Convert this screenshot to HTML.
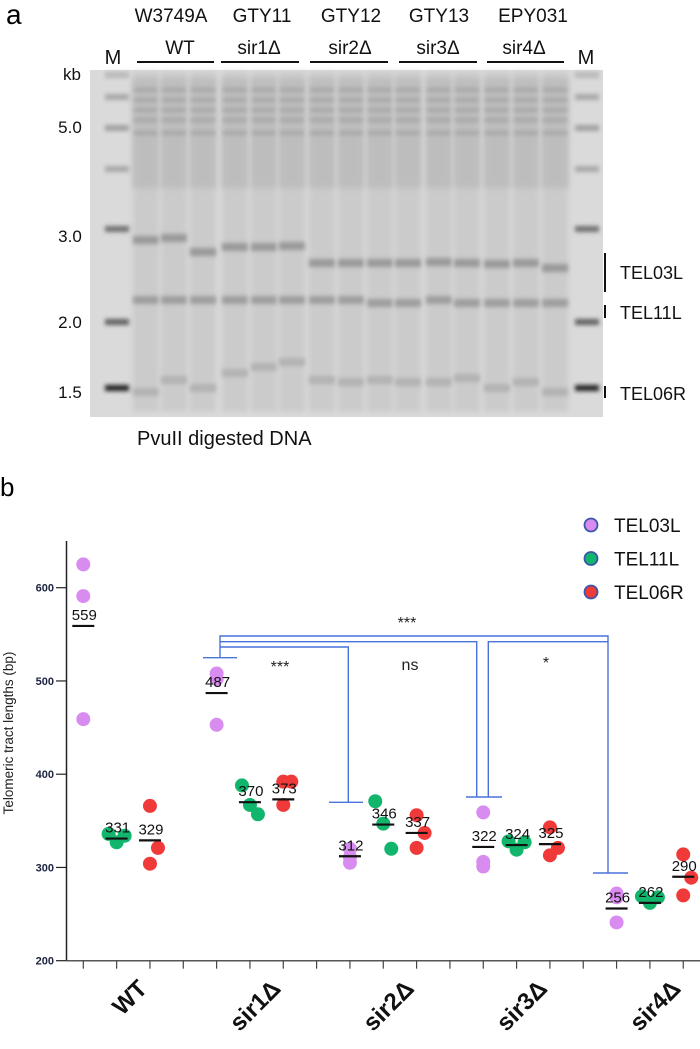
<!DOCTYPE html>
<html><head><meta charset="utf-8">
<style>
html,body{margin:0;padding:0;background:#fff;}
svg{display:block;font-family:"Liberation Sans",sans-serif;}
</style></head>
<body>
<svg id="fig" width="700" height="1049" viewBox="0 0 700 1049" xmlns="http://www.w3.org/2000/svg">
<defs>
<filter id="blur" x="-20%" y="-80%" width="140%" height="260%"><feGaussianBlur stdDeviation="2.2"/></filter>
<filter id="blur2" x="-20%" y="-20%" width="140%" height="140%"><feGaussianBlur stdDeviation="3"/></filter>
</defs>
<text x="6" y="24" font-size="28">a</text>
<g id="gel-labels" font-size="19" text-anchor="middle" fill="#111">
<text x="171" y="22">W3749A</text>
<text x="262" y="22">GTY11</text>
<text x="351" y="22">GTY12</text>
<text x="439" y="22">GTY13</text>
<text x="533" y="22">EPY031</text>
<text x="180" y="54">WT</text>
<text x="259" y="54">sir1Δ</text>
<text x="350" y="54">sir2Δ</text>
<text x="438" y="54">sir3Δ</text>
<text x="524" y="54">sir4Δ</text>
<text x="113" y="64" font-size="20">M</text>
<text x="586" y="64" font-size="20">M</text>
</g>
<g stroke="#111" stroke-width="2">
<line x1="137" y1="62" x2="214" y2="62"/><line x1="221" y1="62" x2="299" y2="62"/>
<line x1="310" y1="62" x2="388" y2="62"/><line x1="399" y1="62" x2="477" y2="62"/>
<line x1="487" y1="62" x2="564" y2="62"/>
</g>
<g font-size="17" text-anchor="middle" fill="#111">
<text x="72" y="80">kb</text><text x="70" y="133">5.0</text><text x="70" y="242">3.0</text>
<text x="70" y="328">2.0</text><text x="70" y="398">1.5</text>
</g>
<rect x="90" y="70" width="513" height="347" fill="#dadada"/>
<g id="gel"></g>
<g font-size="18" fill="#111">
<line x1="605" y1="253" x2="605" y2="292" stroke="#111" stroke-width="2"/>
<text x="620" y="279">TEL03L</text>
<line x1="605" y1="305" x2="605" y2="318" stroke="#111" stroke-width="2"/>
<text x="620" y="319">TEL11L</text>
<line x1="605" y1="386" x2="605" y2="398" stroke="#111" stroke-width="2"/>
<text x="620" y="400">TEL06R</text>
</g>
<text x="137" y="445" font-size="20" fill="#111">PvuII digested DNA</text>
<text x="0" y="496" font-size="26">b</text>
<g id="chart"></g>
</svg>
<script>
// ---- chart data ----
const groups = ["WT","sir1Δ","sir2Δ","sir3Δ","sir4Δ"];
const seriesNames = ["TEL03L","TEL11L","TEL06R"];
const tel03L = [[625,591,459],[508,502,453],[320,305,311],[359,301,306],[272,268,241]];
const tel11L = [[336,327,334],[388,367,357],[371,347,320],[328,319,327],[269,262,268]];
const tel06R = [[366,321,304],[392,392,367],[356,337,321],[343,321,313],[314,289,270]];
const meanLabels = [[559,331,329],[487,370,373],[312,346,337],[322,324,325],[256,262,290]];
const yTicks = [200,300,400,500,600];
const sigLabels = ["***","***","ns","*"];

const NS='http://www.w3.org/2000/svg';
function mk(tag, attrs, parent){const e=document.createElementNS(NS,tag);for(const k in attrs)e.setAttribute(k,attrs[k]);parent.appendChild(e);return e;}

// ---- gel (decorative) ----
const gel=document.getElementById('gel');
const laneX=[146,174,203,235,264,292,322,351,380,408,439,467,497,526,555];
const t3=[240,238,252,247,247,246,263,263,263,263,262,263,264,263,268];
const t11=[300,300,300,300,300,300,300,300,303,303,300,303,303,303,303];
const t6=[392,380,388,373,367,362,380,382,380,382,382,378,388,382,392];
laneX.forEach((x,i)=>{
  mk('rect',{x:x-13,y:72,width:26,height:340,fill:'#cbcbcb',filter:'url(#blur2)'},gel);
  mk('rect',{x:x-13,y:78,width:26,height:110,fill:'#bdbdbd',filter:'url(#blur2)'},gel);
  [90,100,110,120,133].forEach(y=>mk('rect',{x:x-12,y:y-2,width:24,height:4,fill:'#a6a6a6',filter:'url(#blur)'},gel));
  mk('rect',{x:x-13,y:t3[i]-4,width:26,height:8,fill:'#999',filter:'url(#blur)'},gel);
  mk('rect',{x:x-13,y:t11[i]-4,width:26,height:8,fill:'#9e9e9e',filter:'url(#blur)'},gel);
  mk('rect',{x:x-13,y:t6[i]-4,width:26,height:8,fill:'#b2b2b2',filter:'url(#blur)'},gel);
});
[117,587].forEach(x=>{
  [[75,'#b8b8b8'],[97,'#a8a8a8'],[128,'#a0a0a0'],[169,'#a8a8a8'],[229,'#707070'],[322,'#606060'],[388,'#222']].forEach(([y,c])=>
    mk('rect',{x:x-12,y:y-3,width:24,height:6,fill:c,filter:'url(#blur)'},gel));
});

// ---- dot plot ----
const chart=document.getElementById('chart');
const X0=66.5, Y0=960.7, PX=0.9325;
function yS(v){return Y0-(v-200)*PX;}
function xS(g,s){return 83.3+(g*4+s)*33.33;}
const colors=['#d98cf0','#12b56c','#f03a3a'];
const jitter=[[0,0,0],[-8,0,8],[0,8,0]];
const allSeries=[tel03L,tel11L,tel06R];

// axes
let ax=mk('line',{x1:X0,y1:541,x2:X0,y2:Y0,stroke:'#222','stroke-width':1.5},chart);


let bx=mk('line',{x1:X0,y1:Y0,x2:700,y2:Y0,stroke:'#555','stroke-width':1.5},chart);


yTicks.forEach(v=>{
  mk('line',{x1:56,y1:yS(v),x2:X0,y2:yS(v),stroke:'#222','stroke-width':1.2},chart);
  const t=mk('text',{x:54,y:yS(v)+4,'font-size':11,'font-weight':'bold','text-anchor':'end',fill:'#1b2340'},chart);
  t.textContent=v;
  
  
});
for(let k=0;k<19;k++){
  mk('line',{x1:83.3+k*33.33,y1:Y0,x2:83.3+k*33.33,y2:Y0+8,stroke:'#444','stroke-width':1.2},chart);
}
const yt=mk('text',{x:0,y:0,'font-size':13.5,'text-anchor':'middle',fill:'#222',transform:'translate(13,733) rotate(-90)'},chart);
yt.textContent='Telomeric tract lengths (bp)';


groups.forEach((g,gi)=>{
  const cx=xS(gi,1);
  const t=mk('text',{x:0,y:0,'font-size':24,'font-weight':'bold','text-anchor':'end',fill:'#111',transform:`translate(${cx+32},990) rotate(-45)`},chart);
  t.textContent=g;
  
  
});

// points
allSeries.forEach((ser,si)=>{
  ser.forEach((vals,gi)=>{
    vals.forEach((v,pi)=>{
      const c=mk('circle',{cx:xS(gi,si)+jitter[si][pi],cy:yS(v),r:7,fill:colors[si]},chart);
      
      
    });
  });
});
// mean lines + labels
meanLabels.forEach((row,gi)=>row.forEach((m,si)=>{
  const x=xS(gi,si), y=yS(m);
  const l=mk('line',{x1:x-11,y1:y,x2:x+11,y2:y,stroke:'#111','stroke-width':2.2},chart);
  
  
  const t=mk('text',{x:x+1,y:y-6,'font-size':15,'text-anchor':'middle',fill:'#111'},chart);
  t.textContent=m;
  
  
}));

// significance brackets
const br=mk('g',{stroke:'#4a72d8','stroke-width':1.4,fill:'none'},chart);


[
 'M203,657.7H237','M220,657.7V636H608V873','M593,873H628',
 'M220,641.7H476.7V797','M466,797H502','M488.3,797V641.7H608',
 'M220,647H348.3V802.3','M329,802.3H363'
].forEach(d=>mk('path',{d},br));
[[280,672],[407,628],[410,670],[546,668]].forEach((p,i)=>{
  const t=mk('text',{x:p[0],y:p[1],'font-size':16,'text-anchor':'middle',fill:'#222'},chart);
  t.textContent=sigLabels[i];
  
  
});

// legend
seriesNames.forEach((n,i)=>{
  const y=525+i*33.5;
  const c=mk('circle',{cx:591,cy:y,r:6.5,fill:colors[i],stroke:'#3b55a8','stroke-width':1.8},chart);
  
  
  const t=mk('text',{x:614,y:y+7,'font-size':19,fill:'#111'},chart);
  t.textContent=n;
  
  
});
</script>
</body></html>
